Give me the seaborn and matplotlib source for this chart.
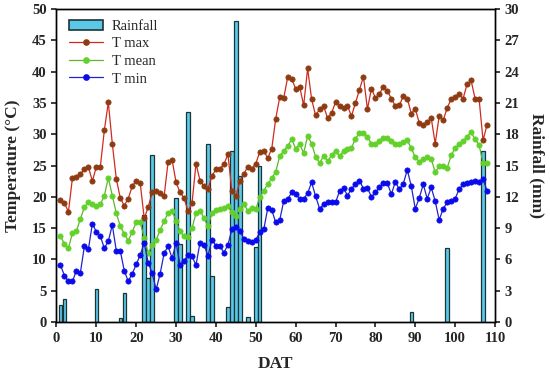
import pandas as pd
import matplotlib
matplotlib.use("Agg")
import matplotlib.pyplot as plt
from matplotlib.patches import Patch
from matplotlib.lines import Line2D
import seaborn as sns

# ------------------------------
# Data
# ------------------------------
dat = list(range(1, 109))

t_max = [19.5, 19.0, 17.6, 23.0, 23.2, 23.7, 24.4, 24.8, 22.5, 24.8,
         24.8, 30.6, 35.1, 28.5, 22.9, 19.8, 18.6, 19.7, 21.7, 22.6,
         22.2, 16.6, 18.3, 20.7, 21.0, 20.6, 20.1, 25.6, 25.9, 22.3,
         20.7, 19.8, 17.7, 19.0, 25.3, 22.6, 21.7, 21.3, 23.3, 24.4,
         24.5, 25.2, 26.8, 20.9, 20.1, 22.5, 23.7, 24.8, 24.5, 25.3,
         27.2, 27.3, 26.2, 27.7, 32.5, 35.9, 35.8, 39.1, 38.8, 37.3,
         37.6, 34.6, 40.5, 35.6, 33.0, 34.0, 34.5, 32.6, 33.4, 35.1,
         34.5, 34.2, 34.5, 32.9, 35.0, 37.1, 39.2, 34.0, 37.3, 35.8,
         36.4, 37.6, 36.9, 35.7, 34.5, 34.6, 36.1, 35.7, 33.3, 34.1,
         31.8, 31.4, 31.9, 32.6, 28.5, 32.9, 32.2, 34.2, 35.6, 36.0,
         36.4, 35.7, 38.0, 38.6, 35.7, 35.7, 29.0, 31.5]

t_mean = [13.7, 12.5, 11.8, 14.2, 14.5, 16.5, 18.3, 19.2, 18.9, 18.6,
          18.8, 20.2, 23.0, 20.2, 17.4, 15.3, 14.1, 13.0, 14.4, 15.9,
          15.9, 13.5, 11.0, 12.3, 13.1, 14.7, 16.1, 17.4, 17.8, 16.1,
          14.5, 13.7, 13.6, 15.0, 17.4, 17.8, 16.6, 15.3, 17.4, 17.9,
          18.1, 18.2, 18.5, 17.5, 17.0, 18.1, 18.8, 17.8, 18.2, 18.0,
          20.0, 21.0, 22.0, 23.0, 24.0, 26.5, 27.3, 28.1, 29.2, 27.7,
          28.4, 27.0, 29.7, 28.5, 26.4, 25.4, 26.5, 25.7, 26.6, 27.3,
          26.5, 27.3, 27.6, 27.8, 29.3, 30.2, 30.2, 29.6, 28.5, 28.5,
          28.9, 29.4, 29.4, 28.9, 28.5, 28.4, 28.8, 29.0, 27.8, 26.3,
          25.6, 26.0, 26.3, 26.1, 23.9, 24.9, 25.0, 24.6, 26.6, 27.8,
          28.4, 28.9, 29.6, 30.3, 29.2, 28.3, 25.4, 25.4]

t_min = [9.1, 7.4, 6.5, 6.5, 8.2, 7.9, 12.1, 11.6, 15.7, 14.4,
         13.7, 11.8, 12.9, 15.5, 11.4, 11.4, 8.2, 6.5, 7.7, 9.2,
         10.7, 12.6, 9.5, 7.8, 5.2, 7.7, 11.0, 12.1, 10.2, 12.6,
         9.1, 9.8, 10.7, 10.5, 9.1, 12.7, 12.3, 10.6, 13.1, 12.2,
         12.1, 11.1, 12.3, 14.8, 15.2, 14.6, 13.3, 13.0, 12.8, 13.1,
         14.4, 14.8, 18.2, 17.9, 15.9, 16.3, 19.3, 19.6, 20.7, 20.4,
         19.7, 19.6, 20.6, 22.3, 20.1, 18.1, 18.8, 19.1, 19.1, 19.1,
         20.9, 21.4, 20.2, 21.3, 22.0, 22.6, 21.3, 21.4, 20.0, 20.7,
         21.5, 22.2, 22.2, 20.4, 22.4, 21.2, 22.1, 24.3, 21.7, 18.1,
         19.8, 22.0, 19.7, 21.5, 19.3, 16.3, 18.1, 19.1, 19.3, 19.7,
         21.2, 22.0, 22.2, 22.3, 22.6, 22.3, 22.8, 21.0]

rain_day = [1, 2, 10, 16, 17, 22, 23, 24, 30, 31, 33, 34, 38, 39,
            43, 44, 45, 46, 48, 50, 51, 89, 98, 107]
rain_mm = [1.6, 2.2, 3.2, 0.4, 2.8, 10.3, 4.2, 16.0, 11.9, 7.5, 20.1, 0.6,
           17.1, 4.4, 1.4, 16.4, 28.9, 14.0, 0.45, 7.2, 15.0, 1.0, 7.1, 16.4]

temp_df = pd.DataFrame({"DAT": dat, "T max": t_max, "T mean": t_mean, "T min": t_min})
rain_df = pd.DataFrame({"DAT": rain_day, "Rainfall": rain_mm})

# ------------------------------
# Style
# ------------------------------
sns.set_theme(style="ticks")
plt.rcParams["font.family"] = ["Liberation Serif", "DejaVu Serif"]
plt.rcParams["font.weight"] = "bold"
plt.rcParams["xtick.labelsize"] = 10.5
plt.rcParams["ytick.labelsize"] = 10.5
plt.rcParams["xtick.major.size"] = 3.5
plt.rcParams["ytick.major.size"] = 3.5
plt.rcParams["axes.linewidth"] = 1.0

bar_fill = "#5cc8e8"
bar_edge = "#1a3535"
styles = {
    "T max": dict(color="#d02a1e", mfc="#8e3b12", mec="#8e3b12"),
    "T mean": dict(color="#5fb52c", mfc="#62d12a", mec="#62d12a"),
    "T min": dict(color="#2323c8", mfc="#0a0aee", mec="#0a0aee"),
}

fig = plt.figure(figsize=(5.5, 3.76), dpi=100)
ax = fig.add_axes([0.1027, 0.1436, 0.7973, 0.8324])
ax2 = ax.twinx()

# ------------------------------
# Rainfall bars (right axis, behind the lines)
# ------------------------------
sns.barplot(data=rain_df, x="DAT", y="Rainfall", ax=ax2, native_scale=True,
            width=0.85, color=bar_fill, saturation=1, edgecolor=bar_edge,
            linewidth=0.9, errorbar=None)

# ------------------------------
# Temperature lines (left axis)
# ------------------------------
for col, st in styles.items():
    sns.lineplot(data=temp_df, x="DAT", y=col, ax=ax, color=st["color"],
                 linewidth=0.9, marker="o", markersize=3.8,
                 markerfacecolor=st["mfc"], markeredgecolor=st["mec"],
                 markeredgewidth=0.5)

ax.set_zorder(ax2.get_zorder() + 1)
ax.patch.set_visible(False)

ax.set_xlim(0, 110)
ax.set_ylim(0, 50)
ax2.set_ylim(0, 30)
ax.set_xticks(range(0, 111, 10))
ax.set_yticks(range(0, 51, 5))
ax2.set_yticks(range(0, 31, 3))
ax2.set_xlim(0, 110)

ax.set_xlabel("DAT", fontsize=12.5, fontweight="bold", labelpad=8)
ax.set_ylabel("Temperature (\u00b0C)", fontsize=12.5, fontweight="bold", labelpad=8)
ax2.set_ylabel("Rainfall (mm)", fontsize=12.5, fontweight="bold", rotation=270, labelpad=18)

for a in (ax, ax2):
    for lab in a.get_xticklabels() + a.get_yticklabels():
        lab.set_fontweight("bold")
    for s in a.spines.values():
        s.set_visible(True)
        s.set_color("black")

# ------------------------------
# Legend
# ------------------------------
handles = [Patch(facecolor=bar_fill, edgecolor=bar_edge, linewidth=1.2, label="Rainfall")]
for col, st in styles.items():
    handles.append(Line2D([0], [0], color=st["color"], linewidth=0.9, marker="o",
                          markersize=3.8, markerfacecolor=st["mfc"],
                          markeredgecolor=st["mec"], label=col))
ax.legend(handles=handles, loc="upper left", bbox_to_anchor=(0.016, 0.985),
          frameon=False, borderaxespad=0, handlelength=2.3, handletextpad=0.6,
          labelspacing=0.3, prop={"family": "Liberation Serif", "weight": "normal", "size": 10.5})

fig.savefig("out.png", dpi=100)
